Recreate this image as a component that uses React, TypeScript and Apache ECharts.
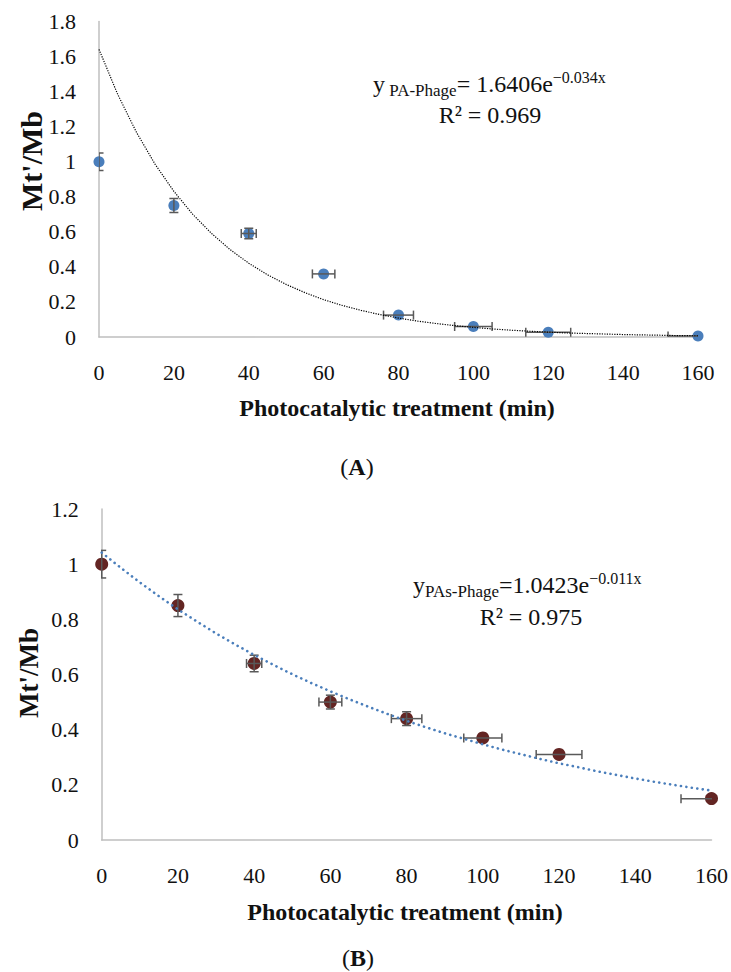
import React, { useEffect, useRef } from "react";
import * as echarts from "echarts";

// ---- Data (A) ----
const timeA = [0, 20, 40, 60, 80, 100, 120, 160];
const ratioA = [1.0, 0.75, 0.59, 0.36, 0.125, 0.06, 0.027, 0.006];
const yErrA = [0.05, 0.04, 0.03, 0, 0, 0, 0, 0];
const xErrA = [0, 0, 2, 3, 4, 5, 6, 8];
// trendline y = 1.6406e^(-0.034x), sampled every 5 min
const trendXA = [0, 5, 10, 15, 20, 25, 30, 35, 40, 45, 50, 55, 60, 65, 70, 75, 80, 85, 90, 95, 100, 105, 110, 115, 120, 125, 130, 135, 140, 145, 150, 155, 160];
const trendYA = [1.641, 1.384, 1.168, 0.985, 0.831, 0.701, 0.592, 0.499, 0.421, 0.355, 0.3, 0.253, 0.213, 0.18, 0.152, 0.128, 0.108, 0.091, 0.077, 0.065, 0.055, 0.046, 0.039, 0.033, 0.028, 0.023, 0.02, 0.017, 0.014, 0.012, 0.01, 0.008, 0.007];

// ---- Data (B) ----
const timeB = [0, 20, 40, 60, 80, 100, 120, 160];
const ratioB = [1.0, 0.85, 0.64, 0.5, 0.44, 0.37, 0.31, 0.15];
const yErrB = [0.05, 0.04, 0.03, 0.025, 0.025, 0, 0, 0];
const xErrB = [0, 0, 2, 3, 4, 5, 6, 8];
// trendline y = 1.0423e^(-0.011x), sampled every 5 min
const trendXB = [0, 5, 10, 15, 20, 25, 30, 35, 40, 45, 50, 55, 60, 65, 70, 75, 80, 85, 90, 95, 100, 105, 110, 115, 120, 125, 130, 135, 140, 145, 150, 155, 160];
const trendYB = [1.042, 0.987, 0.934, 0.884, 0.836, 0.792, 0.749, 0.709, 0.671, 0.635, 0.601, 0.569, 0.539, 0.51, 0.483, 0.457, 0.432, 0.409, 0.387, 0.367, 0.347, 0.328, 0.311, 0.294, 0.278, 0.264, 0.249, 0.236, 0.223, 0.211, 0.2, 0.189, 0.179];

const xTitle = "Photocatalytic treatment (min)";
const yTitle = "Mt'/Mb";

const FONT = "'Liberation Serif', 'DejaVu Serif', serif";

function errorSeries(xs: number[], ys: number[], xe: number[], ye: number[], idx: number) {
  return {
    type: "custom",
    xAxisIndex: idx,
    yAxisIndex: idx,
    clip: true,
    z: 3,
    encode: { x: 0, y: 1 },
    data: xs.map((x, i) => [x, ys[i], xe[i], ye[i]]),
    renderItem: (params: any, api: any) => {
      const x = api.value(0), y = api.value(1), ex = api.value(2), ey = api.value(3);
      const style = { stroke: "#595959", lineWidth: 1.5, fill: "none" };
      const cap = 4.5;
      const children: any[] = [];
      if (ey > 0) {
        const p1 = api.coord([x, y - ey]);
        const p2 = api.coord([x, y + ey]);
        children.push({ type: "line", shape: { x1: p1[0], y1: p1[1], x2: p2[0], y2: p2[1] }, style });
        children.push({ type: "line", shape: { x1: p1[0] - cap, y1: p1[1], x2: p1[0] + cap, y2: p1[1] }, style });
        children.push({ type: "line", shape: { x1: p2[0] - cap, y1: p2[1], x2: p2[0] + cap, y2: p2[1] }, style });
      }
      if (ex > 0) {
        const p1 = api.coord([x - ex, y]);
        const p2 = api.coord([x + ex, y]);
        children.push({ type: "line", shape: { x1: p1[0], y1: p1[1], x2: p2[0], y2: p2[1] }, style });
        children.push({ type: "line", shape: { x1: p1[0], y1: p1[1] - cap, x2: p1[0], y2: p1[1] + cap }, style });
        children.push({ type: "line", shape: { x1: p2[0], y1: p2[1] - cap, x2: p2[0], y2: p2[1] + cap }, style });
      }
      return { type: "group", children };
    },
  };
}

function xAxisCfg(idx: number) {
  return {
    type: "value",
    gridIndex: idx,
    min: 0,
    max: 160,
    interval: 20,
    axisLine: { show: true, onZero: false, lineStyle: { color: "#BFBFBF", width: 1.5 } },
    axisTick: { show: false },
    splitLine: { show: false },
    axisLabel: { margin: 24, fontSize: 22, color: "#111", fontFamily: FONT },
  };
}

function yAxisCfg(idx: number, max: number) {
  return {
    type: "value",
    gridIndex: idx,
    min: 0,
    max,
    interval: 0.2,
    axisLine: { show: true, lineStyle: { color: "#BFBFBF", width: 1.5 } },
    axisTick: { show: false },
    splitLine: { show: false },
    axisLabel: { margin: 23, fontSize: 22, color: "#111", fontFamily: FONT },
  };
}

const eqRich = {
  n: { fontSize: 24, lineHeight: 30, fontFamily: FONT, fill: "#111" },
  sub: { fontSize: 17, lineHeight: 14, verticalAlign: "bottom", fontFamily: FONT, fill: "#111" },
  sup: { fontSize: 16, lineHeight: 20, verticalAlign: "top", fontFamily: FONT, fill: "#111" },
};

const labelRich = {
  p: { fontSize: 24, fontFamily: FONT, fill: "#111" },
  b: { fontSize: 24, fontFamily: FONT, fontWeight: "bold", fill: "#111" },
};

export default function App() {
  const ref = useRef<HTMLDivElement>(null);
  useEffect(() => {
    document.body.style.margin = "0";
    if (!ref.current) return;
    const chart = echarts.init(ref.current, undefined, { renderer: "svg" });
    const option: any = {
      animation: false,
      backgroundColor: "#fff",
      grid: [
        { left: 99, top: 21.5, width: 599, height: 315.5 },
        { left: 101.7, top: 509, width: 610, height: 331 },
      ],
      xAxis: [xAxisCfg(0), xAxisCfg(1)],
      yAxis: [yAxisCfg(0, 1.8), yAxisCfg(1, 1.2)],
      series: [
        {
          type: "scatter",
          xAxisIndex: 0,
          yAxisIndex: 0,
          symbolSize: 11,
          itemStyle: { color: "#4A7EBB", opacity: 1 },
          z: 2,
          data: timeA.map((x, i) => [x, ratioA[i]]),
        },
        errorSeries(timeA, ratioA, xErrA, yErrA, 0),
        {
          type: "line",
          xAxisIndex: 0,
          yAxisIndex: 0,
          symbol: "none",
          smooth: false,
          z: 4,
          lineStyle: { color: "#000", width: 1.2, type: [1.2, 1.3] },
          data: trendXA.map((x, i) => [x, trendYA[i]]),
        },
        {
          type: "scatter",
          xAxisIndex: 1,
          yAxisIndex: 1,
          symbolSize: 13,
          itemStyle: { color: "#632523", opacity: 1 },
          z: 2,
          data: timeB.map((x, i) => [x, ratioB[i]]),
        },
        errorSeries(timeB, ratioB, xErrB, yErrB, 1),
        {
          type: "line",
          xAxisIndex: 1,
          yAxisIndex: 1,
          symbol: "none",
          smooth: false,
          z: 4,
          lineStyle: { color: "#4A7EBB", width: 2.6, type: [0.1, 5.4], cap: "round" },
          data: trendXB.map((x, i) => [x, trendYB[i]]),
        },
      ],
      graphic: [
        // Chart A labels
        {
          type: "text",
          x: 397,
          y: 408,
          style: { text: xTitle, font: `bold 24px ${FONT}`, fill: "#111", align: "center", verticalAlign: "middle" },
        },
        {
          type: "text",
          x: 31,
          y: 161,
          rotation: Math.PI / 2,
          style: { text: yTitle, font: `bold 30px ${FONT}`, fill: "#111", align: "center", verticalAlign: "middle" },
        },
        {
          type: "text",
          x: 373,
          y: 84,
          style: {
            text: "{n|y}{sub| PA-Phage}{n|= 1.6406e}{sup|−0.034x}",
            rich: eqRich,
            align: "left",
            verticalAlign: "middle",
          },
        },
        {
          type: "text",
          x: 490,
          y: 115,
          style: { text: "R² = 0.969", font: `24px ${FONT}`, fill: "#111", align: "center", verticalAlign: "middle" },
        },
        {
          type: "text",
          x: 357,
          y: 467,
          style: { text: "{p|(}{b|A}{p|)}", rich: labelRich, align: "center", verticalAlign: "middle" },
        },
        // Chart B labels
        {
          type: "text",
          x: 405,
          y: 911.7,
          style: { text: xTitle, font: `bold 24px ${FONT}`, fill: "#111", align: "center", verticalAlign: "middle" },
        },
        {
          type: "text",
          x: 29,
          y: 673,
          rotation: Math.PI / 2,
          style: { text: yTitle, font: `bold 27px ${FONT}`, fill: "#111", align: "center", verticalAlign: "middle" },
        },
        {
          type: "text",
          x: 413,
          y: 585,
          style: {
            text: "{n|y}{sub|PAs-Phage}{n|=1.0423e}{sup|−0.011x}",
            rich: eqRich,
            align: "left",
            verticalAlign: "middle",
          },
        },
        {
          type: "text",
          x: 531,
          y: 617,
          style: { text: "R² = 0.975", font: `24px ${FONT}`, fill: "#111", align: "center", verticalAlign: "middle" },
        },
        {
          type: "text",
          x: 358,
          y: 958,
          style: { text: "{p|(}{b|B}{p|)}", rich: labelRich, align: "center", verticalAlign: "middle" },
        },
      ],
    };
    chart.setOption(option);
    return () => chart.dispose();
  }, []);
  return <div ref={ref} style={{ width: 731, height: 972 }} />;
}
